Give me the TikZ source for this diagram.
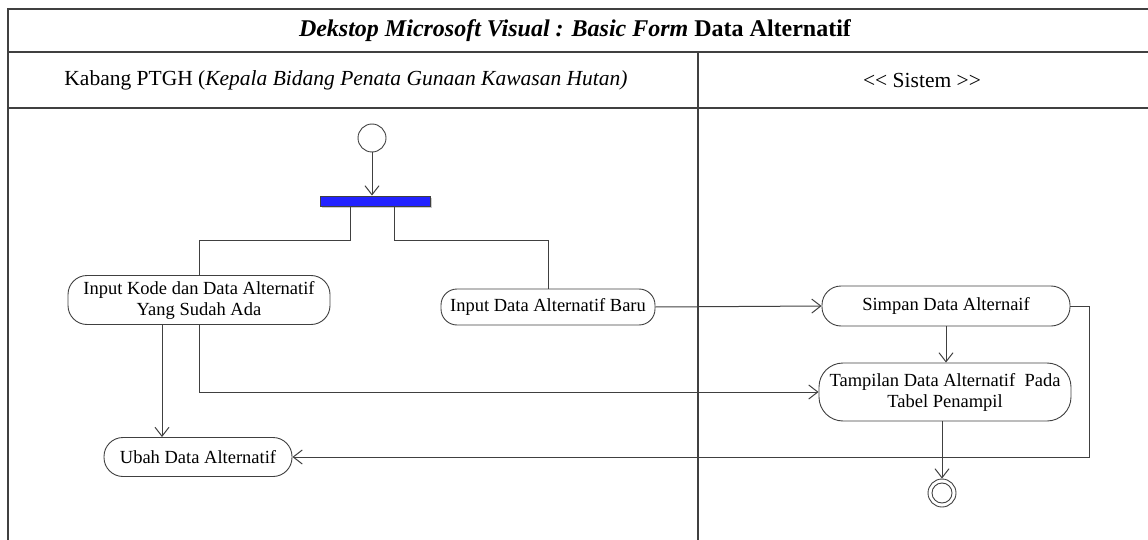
\documentclass[tikz,border=0pt]{standalone}
\usepackage{fontspec}
\setmainfont{Liberation Serif}
\usetikzlibrary{arrows.meta,calc}
\definecolor{ln}{HTML}{404040}
\definecolor{forkblue}{HTML}{2222FF}
\tikzset{
  act/.style={draw=ln, line width=0.9pt, rounded corners=19pt, align=center, font=\fontsize{18.5}{21}\selectfont, inner sep=0pt},
  flow/.style={draw=ln, line width=1pt, -{Straight Barb[length=9pt,width=14pt]}},
  plain/.style={draw=ln, line width=1pt},
  frame/.style={draw=ln, line width=1.2pt},
}
\begin{document}
\begin{tikzpicture}[x=1pt,y=-1pt]
\useasboundingbox (0,0) rectangle (1148,540);
% frame
\draw[frame] (1148,9) -- (8,9) -- (8,540);
\draw[frame] (8,52) -- (1148,52);
\draw[frame] (8,108) -- (1148,108);
\draw[frame] (698,52) -- (698,540);
\node[font=\fontsize{24}{26}\selectfont\bfseries] (title) at (575,31) {\textit{Dekstop Microsoft Visual : Basic Form} Data Alternatif};
\node[font=\fontsize{21.5}{24}\selectfont] (lane1) at (346,80) {Kabang PTGH (\textit{Kepala Bidang Penata Gunaan Kawasan Hutan)}};
\node[font=\fontsize{21.5}{24}\selectfont] (lane2) at (922,80) {<\kern0pt< Sistem >\kern0pt>};
% start
\node[draw=ln, line width=0.9pt, circle, minimum size=28pt, inner sep=0pt] (start) at (372,138) {};
% fork
\fill[gray!40] (322,198) rectangle (432,208);
\node[draw=ln, line width=0.9pt, fill=forkblue, minimum width=110pt, minimum height=10pt, inner sep=0pt] (fork) at (375,201) {};
% activities
\node[act, minimum width=262pt, minimum height=49pt] (A) at (199,300) {Input Kode dan Data Alternatif\\Yang Sudah Ada};
\node[act, minimum width=214pt, minimum height=36pt, rounded corners=16pt] (B) at (548,307) {Input Data Alternatif Baru};
\node[act, minimum width=248pt, minimum height=40pt] (S) at (946,306) {Simpan Data Alternaif};
\node[act, minimum width=252pt, minimum height=58pt, rounded corners=24pt] (T) at (945,392) {Tampilan Data Alternatif~ Pada\\Tabel Penampil};
\node[act, minimum width=188pt, minimum height=39pt] (U) at (198,457) {Ubah Data Alternatif};
% end
\node[draw=ln, line width=0.9pt, circle, minimum size=28pt, inner sep=0pt] (end) at (942,493) {};
\node[draw=ln, line width=0.9pt, circle, minimum size=20pt, inner sep=0pt] (endin) at (942,493) {};
% connectors
\coordinate (f1) at (350,206);
\coordinate (f2) at (394,206);
\draw[flow] (start) -- (start |- fork.north);
\draw[plain] (f1) -- (350,240) -| (A.north);
\draw[plain] (f2) -- (394,240) -| (B.north);
\draw[flow] (B.east) -- (S.west);
\draw[flow] (S.south) -- (S.south |- T.north);
\coordinate (a1) at ($(A.south)+(-37,0)$);
\draw[flow] (a1) -- (a1 |- U.north);
\draw[flow] (A.south) |- (T.west);
\draw[flow] (S.east) -- ++(19,0) |- (U.east);
\draw[flow] (T.south -| end) -- (end.north);
\end{tikzpicture}
\end{document}
